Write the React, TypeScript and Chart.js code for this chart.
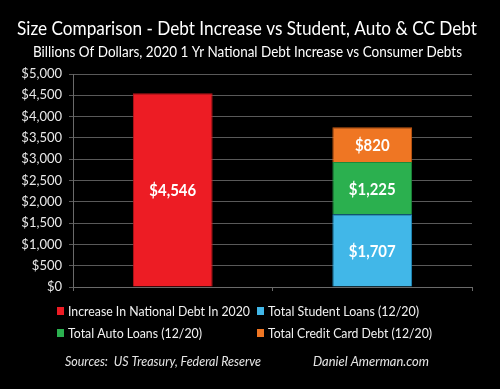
import React, { useEffect, useRef } from "react";
import { Chart, registerables } from "chart.js";

Chart.register(...registerables);

const titleText = "Size Comparison - Debt Increase vs Student, Auto & CC Debt";
const subtitleText = "Billions Of Dollars, 2020 1 Yr National Debt Increase vs Consumer Debts";
const categories = ["National Debt Increase", "Consumer Debts"];
const seriesNames = [
  "Increase In National Debt In 2020",
  "Total Student Loans (12/20)",
  "Total Auto Loans (12/20)",
  "Total Credit Card Debt (12/20)",
];
const nationalDebt = [4546, null];
const studentLoans = [null, 1707];
const autoLoans = [null, 1225];
const creditCard = [null, 820];
const seriesColors = ["#ED1C24", "#41B7E8", "#2BB04F", "#EF7623"];
const seriesBorders = ["#B8141A", "#1E8FC2", "#1C8A3B", "#C65A12"];
const sourceText = "Sources:  US Treasury, Federal Reserve";
const creditText = "Daniel Amerman.com";

const fmt = (v: number) => "$" + v.toLocaleString("en-US");

function fitText(ctx: CanvasRenderingContext2D, text: string, x: number, y: number, w: number) {
  const m = ctx.measureText(text).width;
  if (m <= w) {
    ctx.fillText(text, x, y);
    return;
  }
  ctx.save();
  ctx.translate(x, y);
  ctx.scale(w / m, 1);
  ctx.fillText(text, 0, 0);
  ctx.restore();
}

function squeezed(ctx: CanvasRenderingContext2D, text: string, x: number, y: number, f: number) {
  ctx.save();
  ctx.translate(x, y);
  ctx.scale(f, 1);
  ctx.fillText(text, 0, 0);
  ctx.restore();
}

export default function App() {
  const ref = useRef<HTMLCanvasElement | null>(null);
  useEffect(() => {
    const canvas = ref.current!;
    const decor = {
      id: "decor",
      afterDraw(chart: any) {
        const ctx = chart.ctx;
        ctx.save();
        ctx.fillStyle = "#ffffff";
        ctx.textAlign = "center";
        ctx.textBaseline = "middle";
        ctx.font = "19px Lato";
        fitText(ctx, titleText, 247, 29, 460);
        ctx.font = "15px Lato";
        fitText(ctx, subtitleText, 247.5, 52, 429);
        // data labels
        ctx.font = "bold 17px Lato";
        chart.data.datasets.forEach((ds: any, i: number) => {
          const meta = chart.getDatasetMeta(i);
          meta.data.forEach((el: any, j: number) => {
            const v = ds.data[j];
            if (v == null) return;
            const p = el.getCenterPoint();
            squeezed(ctx, fmt(v), p.x, p.y + 1, 0.88);
          });
        });
        // legend
        const legendPos = [
          [57, 311, 182],
          [257, 311, 151],
          [57, 333, 134],
          [257, 333, 164],
        ];
        ctx.textAlign = "left";
        ctx.font = "14px Lato";
        seriesNames.forEach((name, i) => {
          const [x, y, w] = legendPos[i];
          ctx.fillStyle = seriesColors[i];
          ctx.fillRect(x, y - 4, 7, 8);
          ctx.fillStyle = "#f2f2f2";
          fitText(ctx, name, x + 11, y, w);
        });
        // sources
        ctx.font = "italic 14px Lato";
        ctx.fillStyle = "#e6e6e6";
        fitText(ctx, sourceText, 65, 361, 196);
        fitText(ctx, creditText, 313, 361, 116);
        ctx.restore();
      },
    };
    const chart = new Chart(canvas, {
      type: "bar",
      data: {
        labels: categories,
        datasets: [nationalDebt, studentLoans, autoLoans, creditCard].map((d, i) => ({
          label: seriesNames[i],
          data: d as any,
          backgroundColor: seriesColors[i],
          borderColor: seriesBorders[i],
          borderWidth: 1,
          barPercentage: 0.4,
          categoryPercentage: 1,
        })),
      },
      options: {
        responsive: false,
        animation: false,
        layout: { padding: { top: 74, left: 8, right: 28, bottom: 98 } },
        plugins: {
          legend: { display: false },
          title: { display: false },
          tooltip: { enabled: false },
        },
        scales: {
          x: {
            stacked: true,
            ticks: { display: false },
            grid: { drawOnChartArea: false, drawTicks: true, tickLength: 4, color: "#6a6a6a" },
            border: { color: "#6a6a6a" },
          },
          y: {
            stacked: true,
            min: 0,
            max: 5000,
            ticks: {
              stepSize: 500,
              color: "#e8e8e8",
              font: { family: "Lato", size: 13 },
              padding: 7,
              callback: (v: any) => fmt(Number(v)),
            },
            grid: { color: "#595959", tickLength: 4 },
            border: { color: "#6a6a6a" },
            afterFit: (s: any) => {
              s.width = 65;
            },
          },
        },
      },
      plugins: [decor],
    });
    return () => chart.destroy();
  }, []);
  return (
    <div style={{ position: "fixed", left: 0, top: 0, width: 500, height: 389, background: "#000" }}>
      <canvas ref={ref} width={500} height={389} style={{ display: "block" }} />
    </div>
  );
}
